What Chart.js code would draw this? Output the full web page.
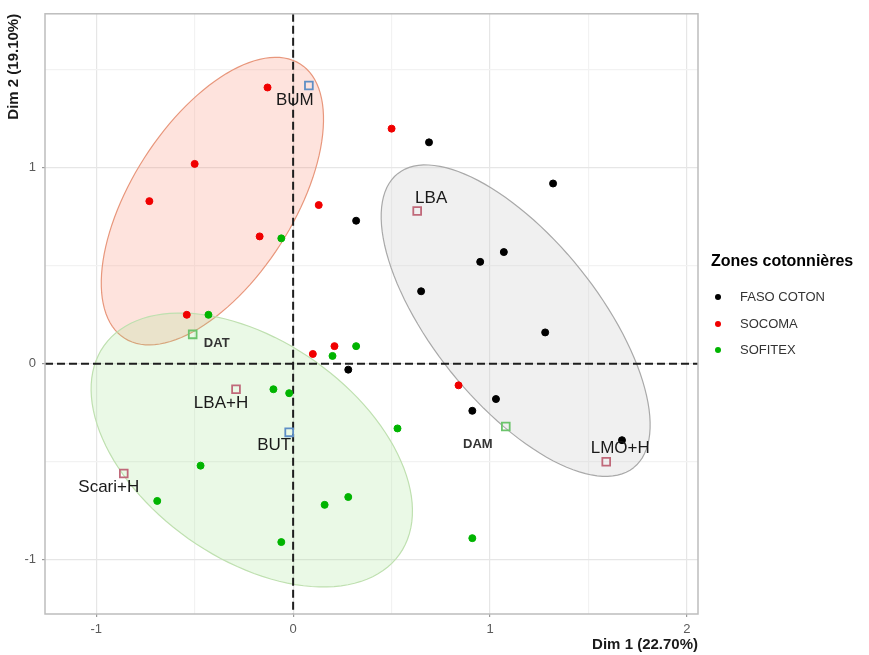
<!DOCTYPE html>
<html>
<head>
<meta charset="utf-8">
<script src="https://cdn.jsdelivr.net/npm/chart.js@4.4.1/dist/chart.umd.min.js"></script>
<style>
  html, body { margin: 0; padding: 0; background: #fff; }
</style>
</head>
<body>
<canvas id="acp" width="869" height="655"></canvas>
<script>
// individus (coordonnées Dim 1 / Dim 2) par zone cotonnière
const zoneNames = ['FASO COTON', 'SOCOMA', 'SOFITEX'];

const fasoX = [0.69, 1.32, 0.32, 1.07, 0.95, 0.65, 1.28, 0.28, 1.03, 0.91, 1.67];
const fasoY = [1.13, 0.92, 0.73, 0.57, 0.52, 0.37, 0.16, -0.03, -0.18, -0.24, -0.39];

const socomaX = [-0.13, 0.50, -0.50, -0.73, 0.13, -0.17, -0.54, 0.10, 0.21, 0.84];
const socomaY = [1.41, 1.20, 1.02, 0.83, 0.81, 0.65, 0.25, 0.05, 0.09, -0.11];

const sofitexX = [-0.06, -0.43, 0.20, 0.32, -0.10, -0.02, 0.53, -0.47, -0.69, 0.28, 0.16, -0.06, 0.91];
const sofitexY = [0.64, 0.25, 0.04, 0.09, -0.13, -0.15, -0.33, -0.52, -0.70, -0.68, -0.72, -0.91, -0.89];

// modalités supplémentaires (variétés)
const suppLabels = ['BUM', 'LBA', 'DAT', 'LBA+H', 'BUT', 'Scari+H', 'DAM', 'LMO+H'];
const suppX = [0.08, 0.63, -0.51, -0.29, -0.02, -0.86, 1.08, 1.59];
const suppY = [1.42, 0.78, 0.15, -0.13, -0.35, -0.56, -0.32, -0.50];

// ellipses de confiance : FASO COTON, SOCOMA, SOFITEX
const ellCx = [1.13, -0.41, -0.21];
const ellCy = [0.22, 0.83, -0.44];
const ellA = [0.96, 0.83, 0.92];
const ellB = [0.42, 0.41, 0.555];
const ellAngle = [-51.4, 57.5, -35.4];

// axes
const xMin = -1.26, xMax = 2.056;
const yMin = -1.277, yMax = 1.786;

// styles
const zoneColors = ['#000000', '#f00000', '#00b400'];
const ellFill = ['rgba(200,200,200,0.28)', 'rgba(250,128,100,0.22)', 'rgba(150,225,130,0.2)'];
const ellLine = ['#a9a9a9', '#e8977c', '#bfe0b0'];
const suppColors = ['#5f8fc6', '#c0697a', '#6cc46c', '#c0697a', '#5f8fc6', '#c0697a', '#6cc46c', '#c0697a'];
const labelOffsets = [[-14, 15], [14, -13], [24, 9], [-15, 14], [-15, 13], [-15, 14], [-28, 18], [14, -13]];
const labelBold = [false, false, true, false, false, false, true, false];

const FONT = '"Liberation Sans", Arial, sans-serif';

function toPts(xs, ys) {
    return xs.map((x, i) => ({ x: x, y: ys[i] }));
}

const isMajor = v => Math.abs(v - Math.round(v)) < 1e-6;

// fond : ellipses, axes pointillés, cadre
const backgroundLayer = {
    id: 'backgroundLayer',
    beforeDatasetsDraw(chart) {
        const { ctx, chartArea: a, scales: { x, y } } = chart;
        ctx.save();
        ctx.beginPath();
        ctx.rect(a.left, a.top, a.right - a.left, a.bottom - a.top);
        ctx.clip();
        ellCx.forEach((cx, k) => {
            const th = ellAngle[k] * Math.PI / 180;
            ctx.beginPath();
            for (let s = 0; s <= 120; s++) {
                const t = s / 120 * 2 * Math.PI;
                const dx = ellA[k] * Math.cos(t), dy = ellB[k] * Math.sin(t);
                const px = x.getPixelForValue(cx + dx * Math.cos(th) - dy * Math.sin(th));
                const py = y.getPixelForValue(ellCy[k] + dx * Math.sin(th) + dy * Math.cos(th));
                if (s === 0) ctx.moveTo(px, py); else ctx.lineTo(px, py);
            }
            ctx.closePath();
            ctx.fillStyle = ellFill[k];
            ctx.fill();
            ctx.strokeStyle = ellLine[k];
            ctx.lineWidth = 1.2;
            ctx.stroke();
        });
        // lignes zéro
        ctx.strokeStyle = '#1e1e1e';
        ctx.lineWidth = 2;
        ctx.setLineDash([8, 4]);
        const x0 = x.getPixelForValue(0), y0 = y.getPixelForValue(0);
        ctx.beginPath();
        ctx.moveTo(x0, a.top); ctx.lineTo(x0, a.bottom);
        ctx.moveTo(a.left, y0); ctx.lineTo(a.right, y0);
        ctx.stroke();
        ctx.restore();
        // cadre du panneau
        ctx.save();
        ctx.strokeStyle = '#bdbdbd';
        ctx.lineWidth = 1.5;
        ctx.strokeRect(a.left, a.top, a.right - a.left, a.bottom - a.top);
        ctx.restore();
    }
};

// étiquettes des modalités + légende
const labelLayer = {
    id: 'labelLayer',
    afterDatasetsDraw(chart) {
        const { ctx } = chart;
        const meta = chart.getDatasetMeta(3);
        ctx.save();
        ctx.textAlign = 'center';
        ctx.textBaseline = 'middle';
        meta.data.forEach((pt, i) => {
            ctx.font = labelBold[i] ? 'bold 13px ' + FONT : '17px ' + FONT;
            ctx.fillStyle = labelBold[i] ? '#333333' : '#1a1a1a';
            ctx.fillText(suppLabels[i], pt.x + labelOffsets[i][0], pt.y + labelOffsets[i][1]);
        });
        ctx.restore();
    },
    afterDraw(chart) {
        const { ctx } = chart;
        ctx.save();
        ctx.textBaseline = 'middle';
        ctx.textAlign = 'left';
        ctx.fillStyle = '#000';
        ctx.font = 'bold 16px ' + FONT;
        ctx.fillText('Zones cotonnières', 711, 262);
        const ys = [297, 324, 350];
        zoneNames.forEach((name, i) => {
            ctx.beginPath();
            ctx.arc(718, ys[i], 3, 0, 2 * Math.PI);
            ctx.fillStyle = zoneColors[i];
            ctx.fill();
            ctx.fillStyle = '#333333';
            ctx.font = '13px ' + FONT;
            ctx.fillText(name, 740, ys[i]);
        });
        ctx.restore();
    }
};

const pointDs = (i, xs, ys) => ({
    label: zoneNames[i],
    data: toPts(xs, ys),
    backgroundColor: zoneColors[i],
    borderColor: zoneColors[i],
    pointRadius: 3.5,
    pointHoverRadius: 3.5
});

new Chart(document.getElementById('acp'), {
    type: 'scatter',
    data: {
        datasets: [
            pointDs(0, fasoX, fasoY),
            pointDs(1, socomaX, socomaY),
            pointDs(2, sofitexX, sofitexY),
            {
                label: 'Variétés',
                data: toPts(suppX, suppY),
                pointStyle: 'rect',
                pointRadius: 5.5,
                pointHoverRadius: 5.5,
                borderWidth: 1.8,
                backgroundColor: 'rgba(255,255,255,0)',
                borderColor: suppColors
            }
        ]
    },
    options: {
        responsive: false,
        animation: false,
        devicePixelRatio: 1,
        layout: { padding: { left: 0, top: 9, right: 171, bottom: 0 } },
        plugins: { legend: { display: false }, tooltip: { enabled: false } },
        scales: {
            x: {
                type: 'linear',
                min: xMin, max: xMax,
                afterFit: s => { s.height = 41; },
                border: { display: false },
                grid: {
                    color: c => isMajor(c.tick.value) ? '#e6e6e6' : '#f2f2f2',
                    lineWidth: 1.2,
                    tickLength: 3,
                    tickColor: c => isMajor(c.tick.value) ? '#9a9a9a' : 'rgba(0,0,0,0)'
                },
                ticks: {
                    stepSize: 0.5,
                    includeBounds: false,
                    maxRotation: 0,
                    autoSkip: false,
                    padding: 5,
                    color: '#5a5a5a',
                    font: { family: FONT, size: 13 },
                    callback: v => isMajor(v) ? String(Math.round(v)) : ''
                },
                title: {
                    display: true, text: 'Dim 1 (22.70%)', align: 'end',
                    color: '#1a1a1a',
                    font: { family: FONT, size: 15, weight: 'bold' },
                    padding: { top: 0, bottom: 1 }
                }
            },
            y: {
                type: 'linear',
                min: yMin, max: yMax,
                afterFit: s => { s.width = 45; },
                border: { display: false },
                grid: {
                    color: c => isMajor(c.tick.value) ? '#e6e6e6' : '#f2f2f2',
                    lineWidth: 1.2,
                    tickLength: 3,
                    tickColor: c => isMajor(c.tick.value) ? '#9a9a9a' : 'rgba(0,0,0,0)'
                },
                ticks: {
                    stepSize: 0.5,
                    includeBounds: false,
                    autoSkip: false,
                    padding: 6,
                    color: '#5a5a5a',
                    font: { family: FONT, size: 13 },
                    callback: v => isMajor(v) ? String(Math.round(v)) : ''
                },
                title: {
                    display: true, text: 'Dim 2 (19.10%)', align: 'end',
                    color: '#1a1a1a',
                    font: { family: FONT, size: 15, weight: 'bold' },
                    padding: { top: 5, bottom: 0 }
                }
            }
        }
    },
    plugins: [backgroundLayer, labelLayer]
});
</script>
</body>
</html>
